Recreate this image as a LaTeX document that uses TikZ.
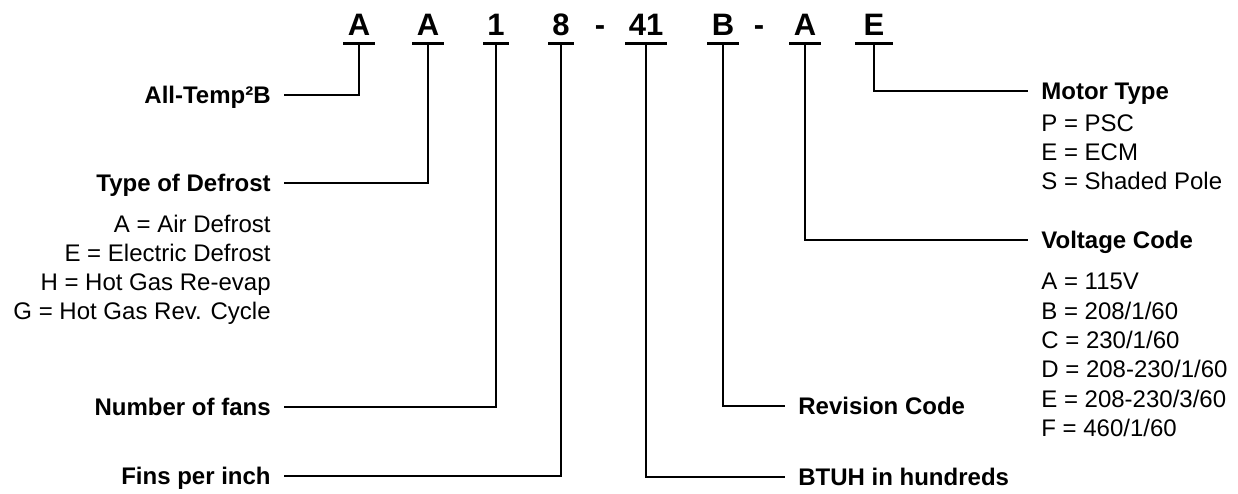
\documentclass[tikz,border=0pt]{standalone}
\usepackage{fontspec}
\setmainfont{Liberation Sans}
\begin{document}
\begin{tikzpicture}[x=1pt,y=-1pt,line width=2.7pt,
        code/.style={font=\fontsize{31}{31}\selectfont\bfseries,
            inner xsep=3pt,inner ysep=7pt,anchor=base},
        lbl/.style={font=\fontsize{24}{24}\selectfont\bfseries,
            text height=17pt,text depth=0pt,inner xsep=12pt,inner ysep=0pt},
        opt/.style={font=\fontsize{24}{24}\selectfont,inner sep=0pt}]
\useasboundingbox (0,0) rectangle (1238,493);

% model number
\node[code] (a1) at (359,35) {A};
\node[code] (a2) at (428,35) {A};
\node[code] (n1) at (496,35) {1};
\node[code] (n8) at (561,35) {8};
\node[code,inner xsep=0pt] (d1) at (600,35) {-};
\node[code,inner xsep=2pt] (n41) at (646,35) {41};
\node[code] (b) at (723,35) {B};
\node[code,inner xsep=0pt] (d2) at (759,35) {-};
\node[code] (av) at (805,35) {A};
\node[code,inner xsep=7pt] (e) at (874,35) {E};
\foreach \n in {a1,a2,n1,n8,n41,b,av,e}
    \draw (\n.south west) -- (\n.south east);

% labels
\node[lbl,anchor=east] (allt) at (284,95) {All-Temp²B};
\node[lbl,anchor=east] (defr) at (284,183) {Type of Defrost};
\node[lbl,anchor=east] (fans) at (284,407) {Number of fans};
\node[lbl,anchor=east] (fins) at (284,476) {Fins per inch};
\node[lbl,anchor=west] (motor) at (1028,91) {Motor Type};
\node[lbl,anchor=west] (volt) at (1028,240) {Voltage Code};
\node[lbl,anchor=west] (rev) at (785,406) {Revision Code};
\node[lbl,anchor=west] (btuh) at (785,477) {BTUH in hundreds};

\foreach \t [count=\i] in {A = Air Defrost, E = Electric Defrost,
        H = Hot Gas Re-evap, G = Hot Gas Rev. Cycle}
    \node[opt,anchor=base east] (df\i) at (272,{203+29*\i}) {\t};
\foreach \t [count=\i] in {P = PSC, E = ECM, S = Shaded Pole}
    \node[opt,anchor=base west] (mt\i) at (1040,{102+29*\i}) {\t};
\foreach \t [count=\i] in {A = 115V, B = 208/1/60, C = 230/1/60,
        D = 208-230/1/60, E = 208-230/3/60, F = 460/1/60}
    \node[opt,anchor=base west] (vc\i) at (1040,{260.2+29.4*\i}) {\t};

% leaders
\draw (a1.south) |- (allt.east);
\draw (a2.south) |- (defr.east);
\draw (n1.south) |- (fans.east);
\draw (n8.south) |- (fins.east);
\draw (n41.south) |- (btuh.west);
\draw (b.south) |- (rev.west);
\draw (av.south) |- (volt.west);
\draw (e.south) |- (motor.west);

\end{tikzpicture}
\end{document}
